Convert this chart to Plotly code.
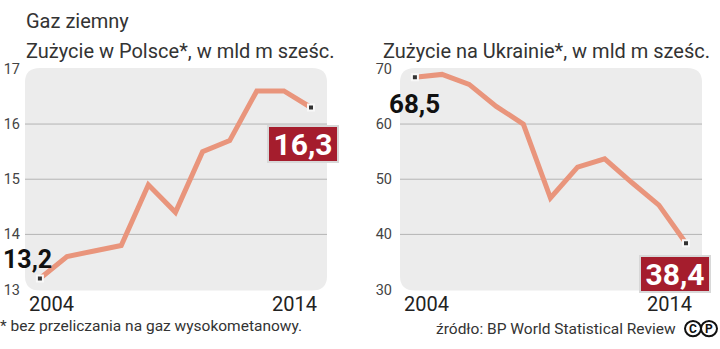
import plotly.graph_objects as go

years = list(range(2004, 2015))
poland = [13.2, 13.6, 13.7, 13.8, 14.9, 14.4, 15.5, 15.7, 16.6, 16.6, 16.3]
ukraine = [68.5, 69.0, 67.2, 63.2, 60.0, 46.6, 52.2, 53.7, 49.4, 45.3, 38.4]
pl_ticks = [13, 14, 15, 16, 17]
ua_ticks = [30, 40, 50, 60, 70]
year_ticks = [2004, 2014]

W, H = 720, 349
LINE = "#e9957c"
RED = "#a51d2d"
TXT = "#333333"

def fmt(v):
    return f"{v:.1f}".replace(".", ",")

fig = go.Figure()
for xa, ya, vals in (("x", "y", poland), ("x2", "y2", ukraine)):
    fig.add_trace(go.Scatter(x=years, y=vals, xaxis=xa, yaxis=ya, mode="lines",
                             line=dict(color=LINE, width=5), hoverinfo="skip"))
    fig.add_trace(go.Scatter(x=[years[0], years[-1]], y=[vals[0], vals[-1]], xaxis=xa, yaxis=ya,
                             mode="markers", hoverinfo="skip",
                             marker=dict(symbol="square", size=6, color="#333333",
                                         line=dict(color="#f8f8f8", width=2))))

def px2x(p):
    return p / W

def px2y(p):
    return 1 - p / H

dl = (px2x(25), px2x(327))
dr = (px2x(400), px2x(702))
dy = (px2y(296), px2y(64))

xr = [2003.45, 2014.59]
axis_common = dict(showgrid=False, zeroline=False, showline=False, ticks="", fixedrange=True)
fig.update_layout(
    width=W, height=H, margin=dict(l=0, r=0, t=0, b=0), autosize=False,
    paper_bgcolor="white", plot_bgcolor="rgba(0,0,0,0)", showlegend=False,
    font=dict(family="Roboto, DejaVu Sans, sans-serif", color=TXT),
    xaxis=dict(domain=list(dl), range=xr, showticklabels=False, anchor="y", **axis_common),
    yaxis=dict(domain=list(dy), range=[13, 17], tickvals=pl_ticks, anchor="x",
               tickfont=dict(size=14.5, color="#444"), ticklabelstandoff=4, **axis_common),
    xaxis2=dict(domain=list(dr), range=xr, showticklabels=False, anchor="y2", **axis_common),
    yaxis2=dict(domain=list(dy), range=[30, 70], tickvals=ua_ticks, anchor="x2",
                tickfont=dict(size=14.5, color="#444"), ticklabelstandoff=7, **axis_common),
)

def rrect(x0, x1, y0, y1, r=15):
    def P(x, y):
        return f"{x / W:.5f},{1 - y / H:.5f}"
    return (f"M {P(x0 + r, y0)} L {P(x1 - r, y0)} Q {P(x1, y0)} {P(x1, y0 + r)} "
            f"L {P(x1, y1 - r)} Q {P(x1, y1)} {P(x1 - r, y1)} L {P(x0 + r, y1)} "
            f"Q {P(x0, y1)} {P(x0, y1 - r)} L {P(x0, y0 + r)} Q {P(x0, y0)} {P(x0 + r, y0)} Z")

shapes = []
for x0, x1 in ((25, 327), (400, 702)):
    shapes.append(dict(type="path", xref="paper", yref="paper", path=rrect(x0, x1, 63, 297),
                       fillcolor="#ececec", line=dict(width=0), layer="below"))
for ya, xa, ticks in (("y", "x", pl_ticks), ("y2", "x2", ua_ticks)):
    for t in ticks[1:-1]:
        shapes.append(dict(type="line", xref=f"{xa} domain", yref=ya, x0=0, x1=1, y0=t, y1=t,
                           line=dict(color="#b4b4b4", width=1), layer="below"))
for cx in (693, 709):
    shapes.append(dict(type="circle", xref="paper", yref="paper",
                       x0=(cx - 8) / W, x1=(cx + 8) / W, y0=1 - (337 + 8) / H, y1=1 - (337 - 8) / H,
                       line=dict(color="#111", width=2)))
fig.update_layout(shapes=shapes)

ann = []
def text(x, y, s, size, color=TXT, xanchor="left", family="Roboto, DejaVu Sans, sans-serif", weight=None):
    f = dict(size=size, color=color, family=family)
    if weight:
        f["weight"] = weight
    ann.append(dict(x=x / W, y=1 - y / H, xref="paper", yref="paper", text=s, showarrow=False,
                    xanchor=xanchor, yanchor="middle", font=f))

text(24, 14, "Gaz ziemny", 20)
text(24, 45, "Zużycie w Polsce*, w mld m sześc.", 20)
text(381, 45, "Zużycie na Ukrainie*, w mld m sześc.", 20)
text(-2, 334, "* bez przeliczania na gaz wysokometanowy.", 15.5)
text(678, 337, "źródło: BP World Statistical Review", 15.5, xanchor="right")
text(693, 337, "C", 12, color="#111", xanchor="center", weight="bold")
text(709, 337, "P", 12, color="#111", xanchor="center", weight="bold")

NARROW = "Liberation Sans Narrow, Arial Narrow, Roboto, sans-serif"
for xa, ya, rng in (("x", "y", 13), ("x2", "y2", 30)):
    for yr, sh in zip(year_ticks, (12, -17)):
        ann.append(dict(x=yr, y=rng, xref=xa, yref=ya, text=str(yr), showarrow=False,
                        xanchor="center", yanchor="middle", xshift=sh, yshift=-14,
                        font=dict(size=20, color="#222", family="Roboto, sans-serif")))

ann.append(dict(x=years[0], y=poland[0], xref="x", yref="y", text=fmt(poland[0]), showarrow=False,
                xanchor="left", yanchor="middle", xshift=-39, yshift=19,
                font=dict(size=25, color="#111", family=NARROW, weight="bold")))
ann.append(dict(x=years[0], y=ukraine[0], xref="x2", yref="y2", text=fmt(ukraine[0]), showarrow=False,
                xanchor="center", yanchor="middle", xshift=0, yshift=-27,
                font=dict(size=26, color="#111", family=NARROW, weight="bold")))
for xa, ya, vals, sx, sy in (("x", "y", poland, -8, -36), ("x2", "y2", ukraine, -11, -31)):
    ann.append(dict(x=years[-1], y=vals[-1], xref=xa, yref=ya, text=fmt(vals[-1]), showarrow=False,
                    xanchor="center", yanchor="middle", xshift=sx, yshift=sy,
                    bgcolor=RED, bordercolor="#d8d8d8", borderwidth=2, borderpad=0,
                    width=68, height=34,
                    font=dict(size=30, color="white", family=NARROW, weight="bold")))

fig.update_layout(annotations=ann)
fig.write_html("out.html")
